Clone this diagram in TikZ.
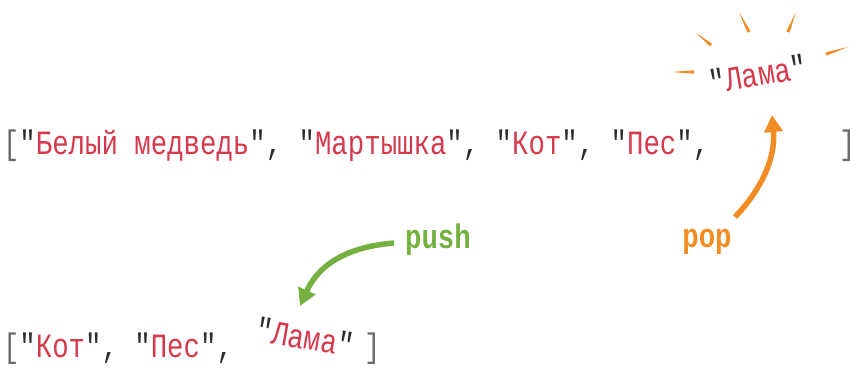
\documentclass[tikz,border=0pt]{standalone}
\usepackage{fontspec}
\usetikzlibrary{arrows.meta,calc}
\newfontfamily\cour[FakeStretch=0.805]{Liberation Mono}
\definecolor{txtred}{RGB}{214,57,77}
\definecolor{qdark}{RGB}{45,45,45}
\definecolor{brgray}{RGB}{105,105,105}
\definecolor{pushgreen}{RGB}{118,176,65}
\definecolor{poporange}{RGB}{240,140,35}
\newcommand{\R}[1]{\textcolor{txtred}{#1}}
\newcommand{\Q}{\textcolor{qdark}{"}}
\newcommand{\C}{\textcolor{qdark}{,}}
\newcommand{\B}[1]{\textcolor{brgray}{#1}}
\tikzset{
  codetxt/.style={inner sep=0pt, outer sep=0pt, font=\cour\fontsize{34}{40}\selectfont, anchor=base west},
  lama/.style={inner sep=0pt, font=\cour\fontsize{34}{40}\selectfont},
  oplabel/.style={inner sep=0pt, font=\cour\bfseries\fontsize{34}{40}\selectfont},
  bigarrow/.style={line width=5.5pt, -{Triangle[length=17pt,width=18pt]}},
  spark/.style={fill=poporange, draw=none}
}
\begin{document}
\begin{tikzpicture}[x=1pt,y=1pt]
\useasboundingbox (0,0) rectangle (857,374);
% top line
\node[codetxt] (top) at (3,219) {\B{[}\Q\R{Белый медведь}\Q\C\ \Q\R{Мартышка}\Q\C\ \Q\R{Кот}\Q\C\ \Q\R{Пес}\Q\C};
\node[codetxt] (topclose) at (839,219) {\B{]}};
% top Лама
\node[lama, rotate=10] (lamatop) at (758,300) {\Q\R{Лама}\Q};
% sparks
\coordinate (s1o) at (671,302); \coordinate (s1i) at (694,302);
\coordinate (s2o) at (696,341); \coordinate (s2i) at (711,329);
\coordinate (s3o) at (739,362); \coordinate (s3i) at (749,342);
\coordinate (s4o) at (796,362); \coordinate (s4i) at (788,342);
\coordinate (s5o) at (848,327); \coordinate (s5i) at (826,320);
\foreach \s in {1,...,5}{
  \fill[spark] (s\s o) -- ($(s\s i)!1.7pt!90:(s\s o)$) -- ($(s\s i)!1.7pt!-90:(s\s o)$) -- cycle;
}
% bottom line
\node[codetxt] (bot) at (3,16) {\B{[}\Q\R{Кот}\Q\C\ \Q\R{Пес}\Q\C};
\node[codetxt] (botclose) at (364,16) {\B{]}};
\node[lama, rotate=-10] (lamabot) at (305,37) {\Q\R{Лама}\Q};
% labels
\node[oplabel, text=pushgreen] (push) at (438,134) {push};
\node[oplabel, text=poporange] (pop) at (707,132) {pop};
% arrows
\coordinate (pushstart) at (394,131);
\coordinate (pushend) at (300,68);
\draw[bigarrow, pushgreen] (pushstart) .. controls (345,127) and (318,108) .. (pushend);
\coordinate (popstart) at (735,157);
\coordinate (popend) at (772,259);
\draw[bigarrow, poporange] (popstart) .. controls (760,183) and (776,215) .. (popend);
\end{tikzpicture}
\end{document}
